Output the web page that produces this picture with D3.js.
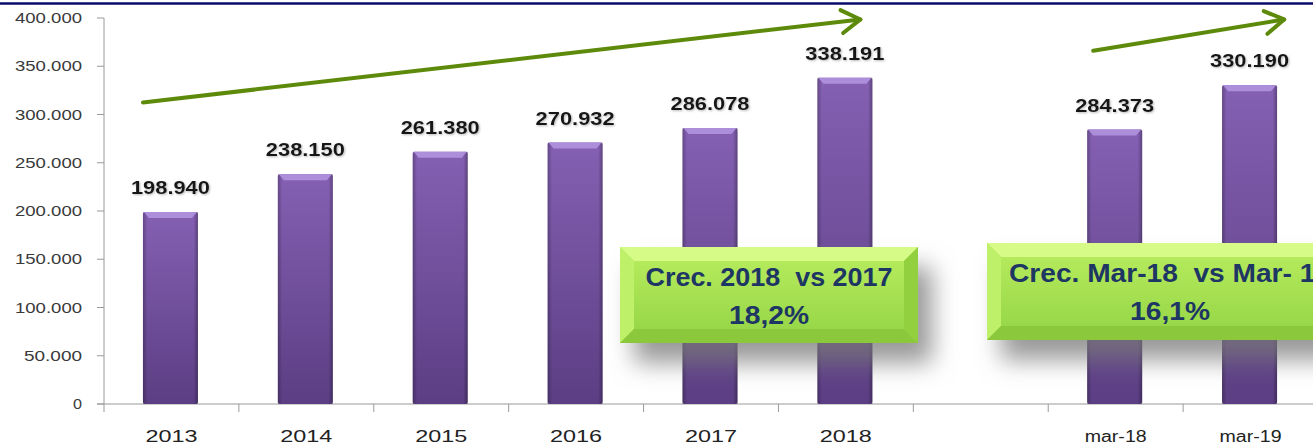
<!DOCTYPE html>
<html><head><meta charset="utf-8">
<script src="https://cdn.jsdelivr.net/npm/d3@7"></script>
<style>html,body{margin:0;padding:0;background:#fff;overflow:hidden}</style>
</head><body>
<svg id="c" width="1313" height="445"></svg>
<script>
const categories = ["2013","2014","2015","2016","2017","2018","","mar-18","mar-19"];
const values = [198940,238150,261380,270932,286078,338191,null,284373,330190];
const valueLabels = ["198.940","238.150","261.380","270.932","286.078","338.191","","284.373","330.190"];
const yTicks = [0,50000,100000,150000,200000,250000,300000,350000,400000];
const yTickLabels = ["0","50.000","100.000","150.000","200.000","250.000","300.000","350.000","400.000"];
const boxTexts = [["Crec. 2018  vs 2017","18,2%"],["Crec. Mar-18  vs Mar- 19","16,1%"]];

const svg = d3.select("#c");
const W=1313,H=445;
const x = d3.scaleBand().domain(d3.range(categories.length)).range([104,1318]).paddingInner(0).paddingOuter(0);
const y = d3.scaleLinear().domain([0,400000]).range([404,18]);
const defs = svg.append("defs");

const bg = defs.append("linearGradient").attr("id","barg").attr("x1",0).attr("y1",0).attr("x2",0).attr("y2",1);
bg.append("stop").attr("offset","0%").attr("stop-color","#8560b3");
bg.append("stop").attr("offset","100%").attr("stop-color","#5b3e83");
const bh = defs.append("linearGradient").attr("id","barh").attr("x1",0).attr("y1",0).attr("x2",1).attr("y2",0);
bh.append("stop").attr("offset","0%").attr("stop-color","#000").attr("stop-opacity",0.25);
bh.append("stop").attr("offset","8%").attr("stop-color","#000").attr("stop-opacity",0);
bh.append("stop").attr("offset","92%").attr("stop-color","#000").attr("stop-opacity",0);
bh.append("stop").attr("offset","100%").attr("stop-color","#000").attr("stop-opacity",0.3);
const sh = defs.append("filter").attr("id","shadow").attr("x","-20%").attr("y","-20%").attr("width","160%").attr("height","200%");
sh.append("feDropShadow").attr("dx",14).attr("dy",20).attr("stdDeviation",12).attr("flood-color","#777").attr("flood-opacity",0.75);
const ts = defs.append("filter").attr("id","tshadow");
ts.append("feDropShadow").attr("dx",1).attr("dy",1).attr("stdDeviation",0.8).attr("flood-color","#888").attr("flood-opacity",0.6);

// top navy line
svg.append("line").attr("x1",0).attr("x2",W).attr("y1",3.5).attr("y2",3.5).attr("stroke","#0b0b6b").attr("stroke-width",2.5);

// axes
const ax = svg.append("g");
ax.append("line").attr("x1",104).attr("x2",104).attr("y1",y(400000)).attr("y2",412).attr("stroke","#9a9a9a");
ax.append("line").attr("x1",97).attr("x2",W).attr("y1",y(0)).attr("y2",y(0)).attr("stroke","#9a9a9a");
yTicks.forEach((t,i)=>{
  ax.append("line").attr("x1",97).attr("x2",104).attr("y1",y(t)).attr("y2",y(t)).attr("stroke","#9a9a9a");
  const lab = yTickLabels[i];
  ax.append("text").attr("x",82).attr("y",y(t)+5).attr("text-anchor","end")
    .attr("font-family","Liberation Sans, Arial").attr("font-size",14).attr("fill","#3a3a3a")
    .attr("textLength", lab.length===1?9:(lab.length===6?58:67)).attr("lengthAdjust","spacingAndGlyphs").text(lab);
});
d3.range(categories.length+1).forEach(i=>{
  const xx = 104 + i*x.bandwidth();
  if(i>0) ax.append("line").attr("x1",xx).attr("x2",xx).attr("y1",404).attr("y2",412).attr("stroke","#9a9a9a");
});
categories.forEach((c,i)=>{
  if(!c) return;
  ax.append("text").attr("x",x(i)+x.bandwidth()/2).attr("y",442).attr("text-anchor","middle")
    .attr("font-family","Liberation Sans, Arial").attr("font-size",16).attr("fill","#222")
    .attr("textLength", c.length===4?52:62).attr("lengthAdjust","spacingAndGlyphs").text(c);
});

// bars
const bw = 55;
const bars = svg.append("g");
values.forEach((v,i)=>{
  if(v==null) return;
  const cx = x(i)+x.bandwidth()/2 - 1;
  const x0 = cx-bw/2, yt=y(v), h=y(0)-y(v);
  bars.append("rect").attr("x",x0).attr("y",yt).attr("width",bw).attr("height",h).attr("rx",2).attr("fill","url(#barg)");
  bars.append("rect").attr("x",x0).attr("y",yt).attr("width",bw).attr("height",h).attr("fill","url(#barh)");
  bars.append("path").attr("d",`M${x0+1},${yt} L${x0+bw-1},${yt} L${x0+bw-6},${yt+6} L${x0+6},${yt+6} Z`).attr("fill","#ad8edb");
  bars.append("text").attr("x",cx).attr("y",yt-18).attr("text-anchor","middle")
    .attr("font-family","Liberation Sans, Arial").attr("font-weight","bold").attr("font-size",18).attr("fill","#151515")
    .attr("filter","url(#tshadow)")
    .attr("textLength",79).attr("lengthAdjust","spacingAndGlyphs").text(valueLabels[i]);
});

// arrows
const ag = svg.append("g").attr("stroke","#5e8a0b").attr("stroke-width",4).attr("fill","none").attr("stroke-linecap","round");
function arrow(x1,y1,x2,y2){
  ag.append("line").attr("x1",x1).attr("y1",y1).attr("x2",x2).attr("y2",y2);
  const a = Math.atan2(y2-y1,x2-x1), L=22, s=0.55;
  ag.append("path").attr("d",`M${x2-L*Math.cos(a-s)},${y2-L*Math.sin(a-s)} L${x2},${y2} L${x2-L*Math.cos(a+s)},${y2-L*Math.sin(a+s)}`).attr("stroke-linejoin","round");
}
arrow(x(0)+39, y(312500), x(5)+82, y(398500));
arrow(x(7)+45, y(366000), x(8)+101, y(398500));

// green boxes
function gbox(x0,y0,w,h,lines,tl){
  const g = svg.append("g");
  g.append("rect").attr("x",x0).attr("y",y0).attr("width",w).attr("height",h).attr("fill","#a6df4f").attr("filter","url(#shadow)");
  const b=14;
  g.append("path").attr("d",`M${x0},${y0} L${x0+w},${y0} L${x0+w-b},${y0+b} L${x0+b},${y0+b}Z`).attr("fill","#d6fb86");
  g.append("path").attr("d",`M${x0},${y0} L${x0+b},${y0+b} L${x0+b},${y0+h-b} L${x0},${y0+h}Z`).attr("fill","#bff06a");
  g.append("path").attr("d",`M${x0+w},${y0} L${x0+w-b},${y0+b} L${x0+w-b},${y0+h-b} L${x0+w},${y0+h}Z`).attr("fill","#93d040");
  g.append("path").attr("d",`M${x0},${y0+h} L${x0+b},${y0+h-b} L${x0+w-b},${y0+h-b} L${x0+w},${y0+h}Z`).attr("fill","#8cc83c");
  const cg = defs.append("linearGradient").attr("id","gc"+x0).attr("x1",0).attr("y1",0).attr("x2",0).attr("y2",1);
  cg.append("stop").attr("offset","0%").attr("stop-color","#b4ea5c");
  cg.append("stop").attr("offset","100%").attr("stop-color","#98d848");
  g.append("rect").attr("x",x0+b).attr("y",y0+b).attr("width",w-2*b).attr("height",h-2*b).attr("fill",`url(#gc${x0})`);
  const cx = x0+w/2;
  g.append("text").attr("x",cx).attr("y",y0+39).attr("text-anchor","middle").attr("font-family","Liberation Sans, Arial")
    .attr("font-weight","bold").attr("font-size",25).attr("fill","#1d3663").attr("xml:space","preserve")
    .attr("textLength",tl[0]).attr("lengthAdjust","spacingAndGlyphs").text(lines[0]);
  g.append("text").attr("x",cx).attr("y",y0+77).attr("text-anchor","middle").attr("font-family","Liberation Sans, Arial")
    .attr("font-weight","bold").attr("font-size",25).attr("fill","#1d3663")
    .attr("textLength",80).attr("lengthAdjust","spacingAndGlyphs").text(lines[1]);
}
gbox(620,247,298,96,boxTexts[0],[247]);
gbox(987,243,366,97,boxTexts[1],[322]);
</script>
</body></html>
